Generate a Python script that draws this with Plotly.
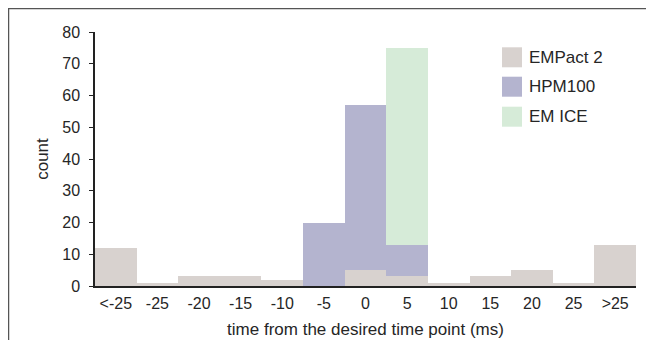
import plotly.graph_objects as go

categories = ["<-25", "-25", "-20", "-15", "-10", "-5", "0", "5", "10", "15", "20", "25", ">25"]
empact2 = [12, 1, 3, 3, 2, 0, 5, 3, 1, 3, 5, 1, 13]
hpm100 = [0, 0, 0, 0, 0, 20, 57, 13, 0, 0, 0, 0, 0]
em_ice = [0, 0, 0, 0, 0, 0, 0, 75, 0, 0, 0, 0, 0]
series_names = ["EMPact 2", "HPM100", "EM ICE"]
colors = ["#d8d2cf", "#b4b4cf", "#d6ebd8"]

FONT = "Liberation Sans, Arial, sans-serif"
TXT = "#262626"

# figure is placed by the page at (8, 8); size chosen to fill the window
W, HH = 646, 332
ML, MR, MT, MB = 87, 18, 24, 54
L = W - ML - MR
H = HH - MT - MB

fig = go.Figure()
# draw order: EM ICE at back, HPM100, EMPact 2 in front
for name, vals, col in [(series_names[2], em_ice, colors[2]),
                        (series_names[1], hpm100, colors[1]),
                        (series_names[0], empact2, colors[0])]:
    fig.add_trace(go.Bar(x=categories, y=vals, name=name, marker_color=col,
                         marker_line_width=0, showlegend=False))

def px(x):
    return (x - ML) / L
def py(y):
    return (MT + H - y) / H

# manual legend (swatch + real text)
rows = [49.3, 78.7, 108.7]
for name, col, yc in zip(series_names, colors, rows):
    fig.add_shape(type="rect", xref="paper", yref="paper",
                  x0=px(494), x1=px(514), y0=py(yc + 10), y1=py(yc - 10),
                  fillcolor=col, line_width=0)
    fig.add_annotation(xref="paper", yref="paper", x=px(519), y=py(yc),
                       text=name, showarrow=False, xanchor="left", yanchor="middle",
                       font=dict(family=FONT, size=17, color=TXT))

# outer frame (top and left visible)
fig.add_shape(type="rect", xref="paper", yref="paper",
              x0=px(0.5), x1=px(W + 20), y0=py(HH + 20), y1=py(0.5),
              line=dict(color="#555555", width=1.5), fillcolor="rgba(0,0,0,0)", layer="below")

fig.update_layout(
    width=W, height=HH,
    margin=dict(l=ML, r=MR, t=MT, b=MB, autoexpand=False),
    paper_bgcolor="white", plot_bgcolor="white",
    barmode="overlay", bargap=0,
    font=dict(family=FONT, size=16, color=TXT),
    xaxis=dict(type="category", range=[-0.5, 12.5], showgrid=False, automargin=False,
               showline=True, linecolor="#222222", linewidth=1.5,
               ticks="", tickfont=dict(size=16, color=TXT), ticklabelstandoff=2,
               title=dict(text="time from the desired time point (ms)",
                          font=dict(size=17, color=TXT), standoff=12)),
    yaxis=dict(range=[0, 80], dtick=10, showgrid=False, zeroline=False, automargin=False,
               showline=True, linecolor="#222222", linewidth=1.5,
               ticks="outside", ticklen=4, tickcolor="#222222",
               tickfont=dict(size=16, color=TXT), ticklabelstandoff=6,
               title=dict(text="count", font=dict(size=17, color=TXT), standoff=9)),
)

fig.write_html("out.html")
